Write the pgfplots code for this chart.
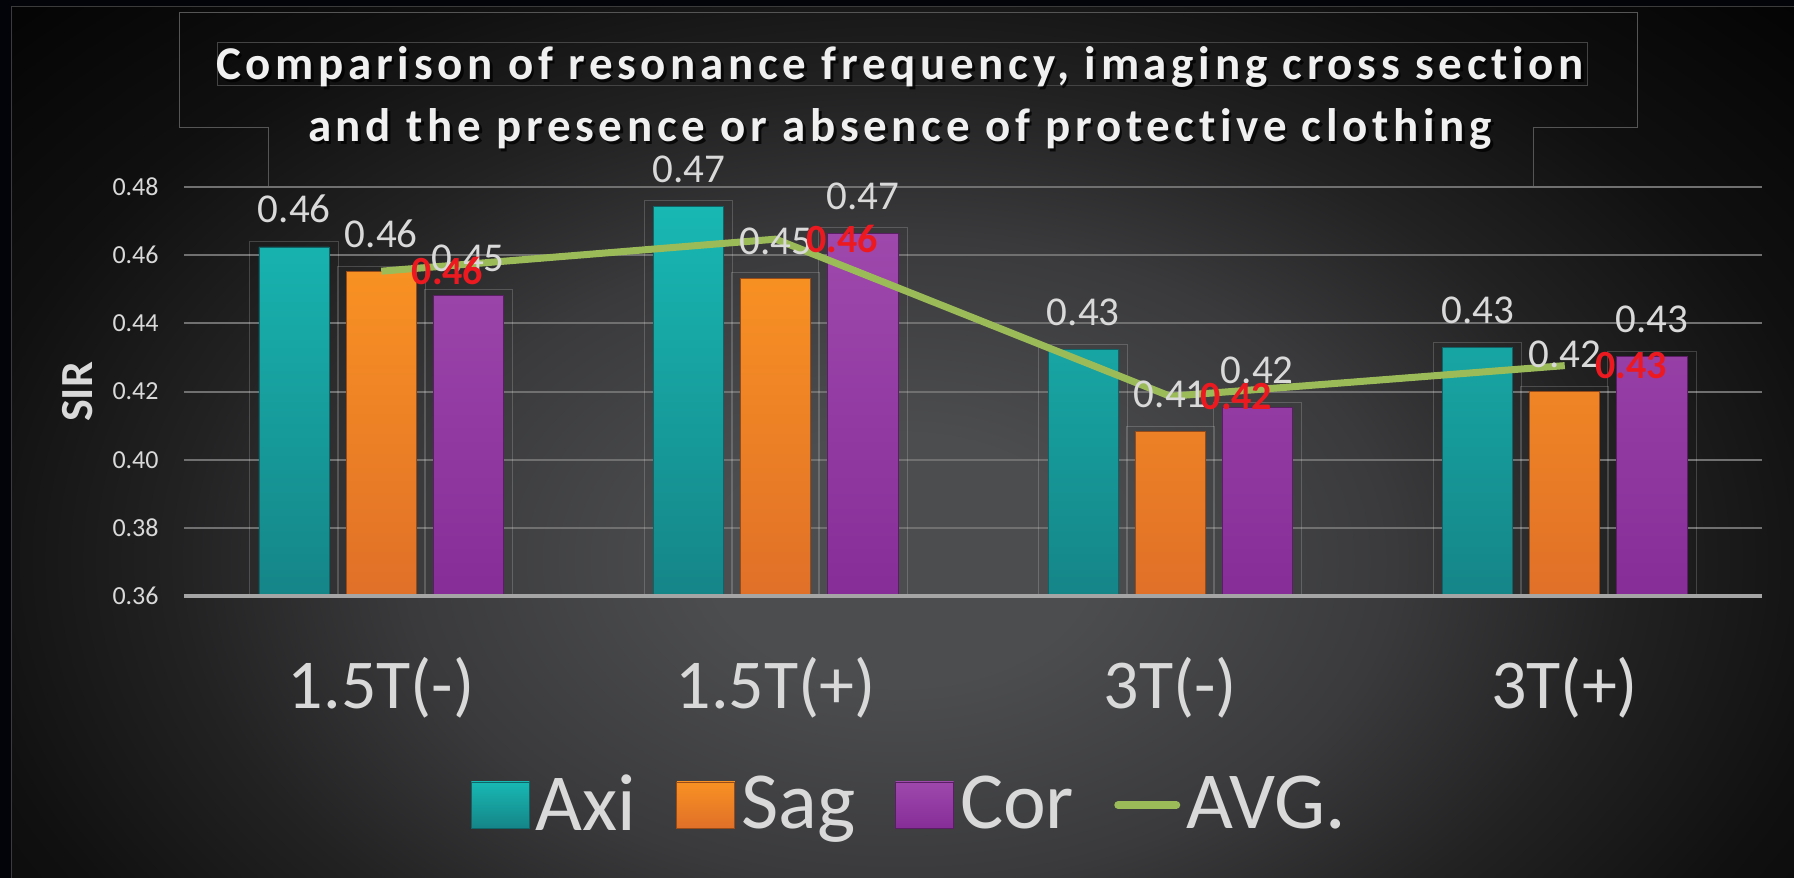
\documentclass[border=0pt]{standalone}
\usepackage{pgfplots}
\pgfplotsset{compat=1.18}
\usepackage{pgfplotstable}
\usepackage{fontspec}
\setmainfont{Carlito}[Ligatures=NoCommon]
\newfontfamily\titlefont{Carlito}[LetterSpace=10, Ligatures=NoCommon]

\definecolor{bgA}{RGB}{76,77,79}
\definecolor{bgB}{RGB}{58,58,60}
\definecolor{bgC}{RGB}{34,34,35}
\definecolor{bgD}{RGB}{16,16,16}
\definecolor{edge}{RGB}{3,4,10}
\definecolor{lbl}{RGB}{217,217,217}
\definecolor{gridc}{RGB}{112,112,112}
\definecolor{axc}{RGB}{165,165,165}
\definecolor{framec}{RGB}{85,85,85}
\definecolor{axiT}{RGB}{24,184,179}
\definecolor{axiB}{RGB}{21,133,136}
\definecolor{axiD}{RGB}{14,100,102}
\definecolor{sagT}{RGB}{248,145,35}
\definecolor{sagB}{RGB}{224,112,40}
\definecolor{sagD}{RGB}{150,75,25}
\definecolor{corT}{RGB}{158,72,172}
\definecolor{corB}{RGB}{135,45,152}
\definecolor{corD}{RGB}{90,30,100}
\definecolor{avgc}{RGB}{155,187,89}
\definecolor{redc}{RGB}{236,26,32}

\pgfdeclareradialshading{bgshade}{\pgfpoint{0bp}{0bp}}{color(0bp)=(bgA); color(5bp)=(bgA); color(13bp)=(bgB); color(19bp)=(bgC); color(25bp)=(bgD); color(35bp)=(black); color(50bp)=(black)}

\pgfplotstableread{
x Axi Sag Cor AVG
0 0.4624 0.4553 0.4483 0.4553
1 0.4744 0.4533 0.4665 0.4647
2 0.4324 0.4082 0.4152 0.4186
3 0.4328 0.4199 0.4302 0.4276
}\datatable

\pgfplotsset{
  barlabel/.style={
    point meta=explicit,
    nodes near coords={\pgfmathprintnumber[fixed,zerofill,precision=2,assume math mode=true]{\pgfplotspointmeta}},
    every node near coord/.append style={anchor=base, xshift=#1, yshift=12pt, inner sep=0pt, font=\fontsize{20.5}{24}\selectfont, text=lbl}},
}

\begin{document}
\begin{tikzpicture}[x=1pt,y=1pt]
% background (1 px = 0.5 pt)
\fill[edge] (0pt,0pt) rectangle (897pt,-439pt);
\begin{scope}
\clip (5.5pt,-3pt) rectangle (897pt,-439pt);
\shade[shading=bgshade] (-25pt,30pt) rectangle (925pt,-590pt);
\end{scope}
\draw[framec!70!black, line width=0.5pt] (5.5pt,-439pt) -- (5.5pt,-3pt) -- (897pt,-3pt);

% title frame artefacts
\draw[framec, line width=0.5pt] (134pt,-93.5pt) -- (134pt,-63.5pt) -- (89.5pt,-63.5pt) -- (89.5pt,-6pt) -- (818.5pt,-6pt) -- (818.5pt,-63.5pt) -- (766.5pt,-63.5pt) -- (766.5pt,-93.5pt);
\draw[framec!80!black, line width=0.5pt] (108.5pt,-21pt) rectangle (793.5pt,-42.5pt);

% title
\begin{scope}[every node/.style={anchor=base, inner sep=0pt, font=\titlefont\bfseries\fontsize{23.5}{31}\selectfont}]
\node[text=black, opacity=0.75] at (451.3pt,-41.2pt) {Comparison of resonance frequency, imaging cross section};
\node[text=black, opacity=0.75] at (451.3pt,-72.2pt) {and the presence or absence of protective clothing};
\node[text=white!94!black] at (450pt,-39.5pt) {Comparison of resonance frequency, imaging cross section};
\node[text=white!94!black] at (450pt,-70.5pt) {and the presence or absence of protective clothing};
\end{scope}

\node[rotate=90, inner sep=0pt, font=\bfseries\fontsize{23}{27}\selectfont, text=lbl] at (39pt,-196pt) {SIR};

\begin{axis}[
  at={(92pt,-298pt)}, anchor=south west,
  width=789pt, height=204.5pt, scale only axis,
  xmin=-0.5, xmax=3.5, ymin=0, ymax=0.12,
  xtick={0,1,2,3}, xticklabels={1.5T(-),1.5T(+),3T(-),3T(+)},
  ytick={0,0.02,0.04,0.06,0.08,0.10,0.12},
  yticklabels={0.36,0.38,0.40,0.42,0.44,0.46,0.48},
  major tick length=0pt,
  axis line style={draw=none},
  ymajorgrids, grid style={color=gridc, line width=1pt},
  xticklabel style={font=\fontsize{35}{40}\selectfont, text=lbl, anchor=base, yshift=-56pt, inner sep=0pt},
  yticklabel style={font=\fontsize{13}{15}\selectfont, text=lbl, anchor=east, xshift=-12.5pt, inner sep=0pt},
  clip=false,
  legend columns=4,
  legend style={at={(0.1819,-0.5085)}, anchor=west, draw=none, fill=none, inner sep=0pt, outer sep=0pt,
    font=\fontsize{40.5}{48}\selectfont, text=lbl, nodes={inner sep=0pt},
    /tikz/every odd column/.style={column sep=3pt},
    /tikz/every even column/.style={column sep=20pt}},
  legend cell align=left,
  after end axis/.code={\draw[axc, line width=2pt] (axis cs:-0.5,0) -- (axis cs:3.5,0);},
]
% faint label/bar boxes
\addplot[ybar, forget plot, bar width=0.2235, bar shift=-0.221, draw=white, draw opacity=0.18, fill=none, line width=0.5pt] table[x=x, y expr=\thisrow{Axi}-0.36+0.0015] {\datatable};
\addplot[ybar, forget plot, bar width=0.2235, bar shift=0, draw=white, draw opacity=0.18, fill=none, line width=0.5pt] table[x=x, y expr=\thisrow{Sag}-0.36+0.0015] {\datatable};
\addplot[ybar, forget plot, bar width=0.2235, bar shift=0.221, draw=white, draw opacity=0.18, fill=none, line width=0.5pt] table[x=x, y expr=\thisrow{Cor}-0.36+0.0015] {\datatable};

\addplot[ybar, bar width=0.1778, bar shift=-0.221, draw=axiD, line width=0.4pt, top color=axiT, bottom color=axiB,
  barlabel=-43.5pt,
  legend image code/.code={\fill[top color=axiT, bottom color=axiB, draw=axiD] (0pt,-12pt) rectangle (29pt,11pt);}]
  table[x=x, y expr=\thisrow{Axi}-0.36, meta=Axi] {\datatable};
\addlegendentry{Axi}
\addplot[ybar, bar width=0.1778, bar shift=0, draw=sagD, line width=0.4pt, top color=sagT, bottom color=sagB,
  barlabel=0pt,
  legend image code/.code={\fill[top color=sagT, bottom color=sagB, draw=sagD] (0pt,-12pt) rectangle (29pt,11pt);}]
  table[x=x, y expr=\thisrow{Sag}-0.36, meta=Sag] {\datatable};
\addlegendentry{Sag}
\addplot[ybar, bar width=0.1778, bar shift=0.221, draw=corD, line width=0.4pt, top color=corT, bottom color=corB,
  barlabel=43.5pt,
  legend image code/.code={\fill[top color=corT, bottom color=corB, draw=corD] (0pt,-12pt) rectangle (29pt,11pt);}]
  table[x=x, y expr=\thisrow{Cor}-0.36, meta=Cor] {\datatable};
\addlegendentry{Cor}
\addplot[sharp plot, mark=none, avgc, line width=3.5pt, line join=round,
  point meta=explicit,
  nodes near coords={\pgfmathprintnumber[fixed,zerofill,precision=2,assume math mode=true]{\pgfplotspointmeta}},
  every node near coord/.append style={anchor=base west, xshift=13.5pt, yshift=-6.5pt, inner sep=0pt, font=\bfseries\fontsize{20}{24}\selectfont, text=redc},
  legend image code/.code={\draw[avgc, line width=4pt, line cap=round] (1pt,-0.5pt) -- (30pt,-0.5pt);}]
  table[x=x, y expr=\thisrow{AVG}-0.36, meta=AVG] {\datatable};
\addlegendentry{AVG.}
\end{axis}
\pgfresetboundingbox
\path[use as bounding box] (0pt,0pt) rectangle (897pt,-439pt);
\end{tikzpicture}
\end{document}
